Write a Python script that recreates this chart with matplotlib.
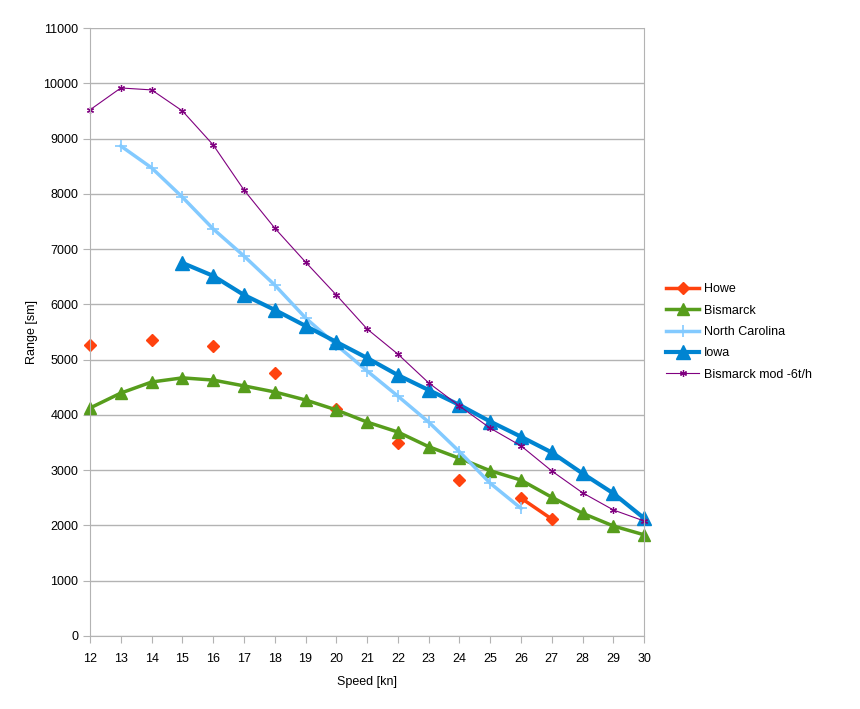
import numpy as np
import matplotlib as mpl
mpl.use('Agg')
import matplotlib.pyplot as plt

plt.rcParams['font.family'] = ['Liberation Sans', 'DejaVu Sans']

nan = np.nan
speed = list(range(12, 31))

howe = [5265, nan, 5355, nan, 5245, nan, 4760, nan, 4105, nan, 3490, nan,
        2820, nan, 2495, 2115, nan, nan, nan]
bismarck = [4125, 4395, 4595, 4670, 4630, 4525, 4415, 4270, 4090, 3870,
            3690, 3425, 3215, 2990, 2820, 2510, 2220, 1990, 1830]
north_carolina = [nan, 8865, 8470, 7940, 7365, 6875, 6350, 5755, 5265, 4795,
                  4340, 3870, 3335, 2763, 2310, nan, nan, nan, nan]
iowa = [nan, nan, nan, 6750, 6515, 6170, 5900, 5610, 5320, 5030, 4720,
        4450, 4180, 3880, 3605, 3320, 2940, 2580, 2130]
bismarck_mod = [9520, 9915, 9880, 9500, 8885, 8070, 7380, 6765, 6170, 5555,
                5100, 4580, 4160, 3760, 3440, 2985, 2590, 2280, 2080]

fig = plt.figure(figsize=(8.6, 7.09), dpi=100)
ax = fig.add_axes([0.1047, 0.103, 0.6443, 0.8575])

ax.plot(speed, howe, color='#ff420e', lw=2.5, marker='D', ms=6.5,
        clip_on=False, label='Howe')
ax.plot(speed, bismarck, color='#579d1c', lw=2.5, marker='^', ms=8,
        clip_on=False, label='Bismarck')
ax.plot(speed, north_carolina, color='#83caff', lw=2.5, marker='+', ms=9,
        mew=1.2, clip_on=False, label='North Carolina')
ax.plot(speed, iowa, color='#0084d1', lw=3, marker='^', ms=10,
        clip_on=False, label='Iowa')
ax.plot(speed, bismarck_mod, color='#800080', lw=0.8, marker=(6, 2, 0), ms=5,
        mew=0.9, clip_on=False, label='Bismarck mod -6t/h')

ax.set_xlim(12, 30)
ax.set_ylim(0, 11000)
ax.set_xticks(speed)
ax.set_yticks(range(0, 11001, 1000))
ax.yaxis.grid(True, color='#b3b3b3', lw=1)
ax.set_axisbelow(True)
for s in ax.spines.values():
    s.set_color('#b3b3b3')
ax.spines['top'].set_visible(False)
ax.tick_params(colors='#b3b3b3', labelcolor='black', labelsize=9, length=5,
               direction='out')
ax.tick_params(axis='x', pad=7)

ax.set_xlabel('Speed [kn]', fontsize=9, labelpad=8)
ax.set_ylabel('Range [sm]', fontsize=9, labelpad=4)

ax.legend(loc='center left', bbox_to_anchor=(1.02, 0.50), frameon=False,
          fontsize=9, handlelength=2.6, labelspacing=0.75, handletextpad=0.4)

fig.savefig('out.png', dpi=100)
